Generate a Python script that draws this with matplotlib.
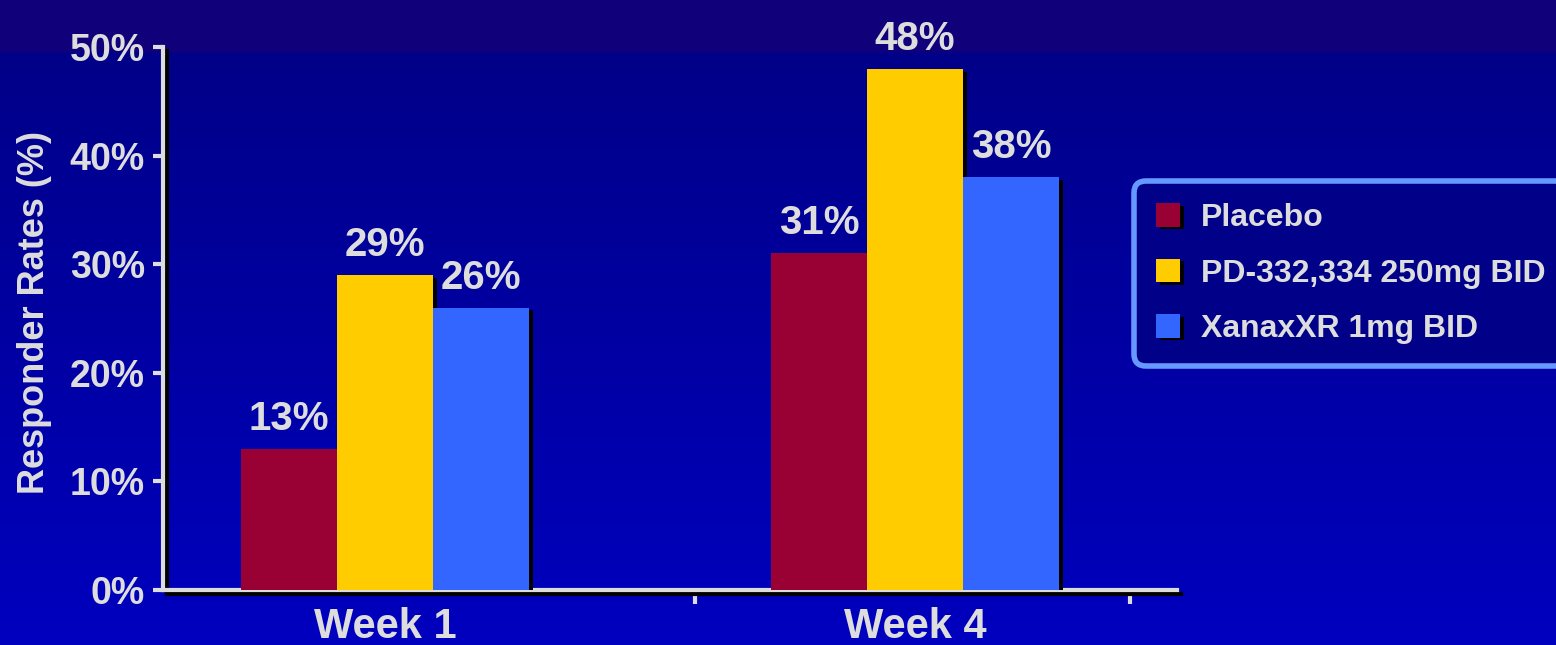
import numpy as np
import matplotlib
matplotlib.use("Agg")
import matplotlib.pyplot as plt
import matplotlib.patheffects as pe
from matplotlib.colors import LinearSegmentedColormap

weeks = ["Week 1", "Week 4"]
serie = ["Placebo", "PD-332,334 250mg BID", "XanaxXR 1mg BID"]
placebo = [13, 31]
pd_332 = [29, 48]
xanax = [26, 38]
colori = ["#990033", "#FFCC00", "#3366FF"]

plt.rcParams["font.family"] = ["Liberation Sans", "DejaVu Sans"]
plt.rcParams["font.weight"] = "bold"
testo = "#DDDDDD"

fig = plt.figure(figsize=(15.56, 6.45), dpi=100)

# sfondo sfumato
bg = fig.add_axes([0, 0, 1, 1], zorder=-10)
cmap = LinearSegmentedColormap.from_list(
    "sfondo", [(0, "#10007a"), (0.077, "#10007a"), (0.08, "#000088"), (1, "#0000bf")])
bg.imshow(np.linspace(0, 1, 645).reshape(-1, 1), aspect="auto", cmap=cmap,
          extent=[0, 1, 0, 1], origin="upper")
bg.axis("off")

ax = fig.add_axes([0.1048, 0.0853, 0.6516, 0.8418])
ax.patch.set_alpha(0)

x = np.arange(len(weeks))
w = 0.181
ombra = [pe.SimplePatchShadow(offset=(3, -2), shadow_rgbFace="black", alpha=1), pe.Normal()]
for i, (vals, nome) in enumerate(zip([placebo, pd_332, xanax], serie)):
    barre = ax.bar(x + (i - 1) * w, vals, w, color=colori[i], label=nome,
                   path_effects=ombra, zorder=3)
    for b, v in zip(barre, vals):
        ax.annotate(f"{v}%", (b.get_x() + b.get_width() / 2, v), xytext=(0, 8),
                    textcoords="offset points", ha="center", va="bottom",
                    color=testo, fontsize=29, fontweight="bold")

ax.set_xlim(-0.419, 1.494)
ax.set_ylim(0, 50)
ax.set_yticks(range(0, 51, 10))
ax.set_yticklabels([f"{t}%" for t in range(0, 51, 10)])
ax.set_xticks([0.585, 1.406])
ax.set_xticklabels([])
ax.tick_params(axis="x", direction="out", length=10, width=3, color=testo, pad=12)
ax.tick_params(axis="y", direction="out", length=7, width=3, color=testo,
               labelsize=27, labelcolor=testo, pad=6)
for k, xc in enumerate(x):
    ax.text(xc, -1.6, weeks[k], transform=ax.transData, ha="center", va="top",
            color=testo, fontsize=30, fontweight="bold")

linea_ombra = [pe.SimpleLineShadow(offset=(3, -3), shadow_color="black", alpha=1), pe.Normal()]
for s in ["top", "right"]:
    ax.spines[s].set_visible(False)
for s in ["left", "bottom"]:
    ax.spines[s].set_color(testo)
    ax.spines[s].set_linewidth(3)
    ax.spines[s].set_path_effects(linea_ombra)

fig.text(0.022, 0.515, "Responder Rates (%)", rotation=90, ha="center", va="center",
         color=testo, fontsize=26, fontweight="bold")

leg = ax.legend(loc="upper left", bbox_to_anchor=(0.7285, 0.72), bbox_transform=fig.transFigure,
                fontsize=23, labelcolor=testo, facecolor="#000088", edgecolor="#6699FF",
                framealpha=1, fancybox=True, handlelength=0.75, handleheight=0.75,
                handletextpad=0.65, labelspacing=0.8, borderpad=0.7, borderaxespad=0)
leg.get_frame().set_linewidth(4)
leg.get_frame().set_boxstyle("round", pad=0, rounding_size=0.4)

fig.savefig("out.png", dpi=100)
